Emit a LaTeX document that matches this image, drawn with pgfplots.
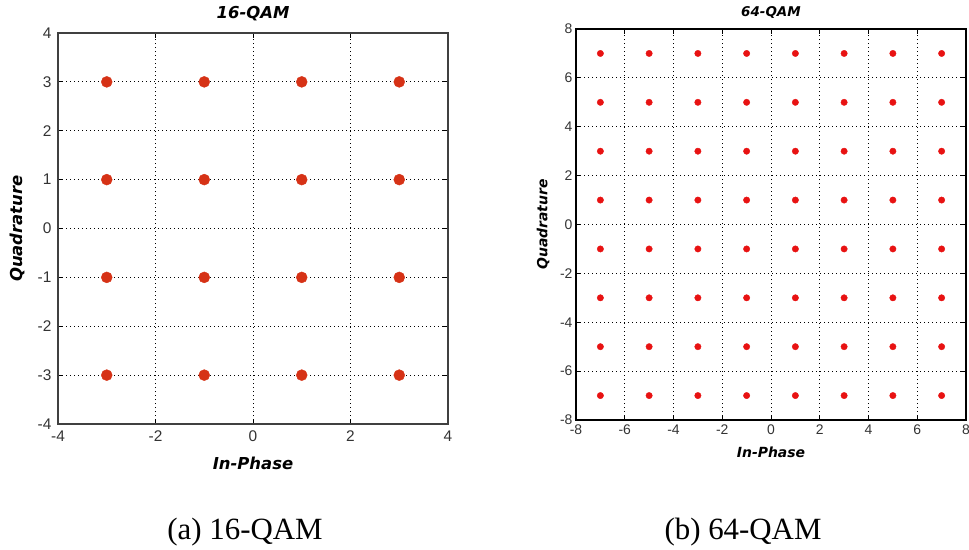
\documentclass[border=0pt]{standalone}
\usepackage{pgfplots}
\pgfplotsset{compat=1.18}
\usepackage{fontspec}
\setmainfont{Liberation Serif}
\newfontfamily\arial{Liberation Sans}
\newfontfamily\mlab{DejaVu Sans}
\definecolor{dotA}{RGB}{214,50,22}
\definecolor{dotB}{RGB}{232,18,18}
\begin{document}
\begin{tikzpicture}
\path[use as bounding box] (0,-550bp) rectangle (969bp,0);
% ---------- 16-QAM ----------
\begin{axis}[
  at={(58bp,-424bp)}, anchor=south west,
  width=390bp, height=391bp, scale only axis,
  xmin=-4, xmax=4, ymin=-4, ymax=4,
  xtick={-4,-2,0,2,4}, ytick={-4,-3,...,4},
  tick align=inside, tick pos=both, major tick length=5bp,
  axis line style={draw=black!75, line width=1.2bp},
  every tick/.style={black, line width=0.8bp},
  grid=major,
  major grid style={black, line width=0.8bp, dash pattern=on 1bp off 3bp},
  /pgf/number format/assume math mode=true,
  tick label style={font=\arial\fontsize{15.5}{15.5}\selectfont, text=black!80},
  yticklabel style={xshift=-3bp},
  xticklabel style={yshift=-3bp},
  every axis title shift=0pt,
  title={\mlab\bfseries\itshape 16-QAM},
  title style={at={(axis description cs:0.5,1.0486)}, anchor=center, font=\fontsize{16.5}{16.5}\selectfont},
  xlabel={\mlab\bfseries\itshape In-Phase},
  xlabel style={at={(axis description cs:0.5,-0.0997)}, anchor=center, font=\fontsize{16.5}{16.5}\selectfont},
  ylabel={\mlab\bfseries\itshape Quadrature},
  ylabel style={at={(axis description cs:-0.105,0.5)}, anchor=center, font=\fontsize{16.5}{16.5}\selectfont},
]
\addplot[only marks, mark=*, mark size=5.5bp, mark options={fill=dotA, draw=dotA}]
coordinates {
(-3,3) (-1,3) (1,3) (3,3)
(-3,1) (-1,1) (1,1) (3,1)
(-3,-1) (-1,-1) (1,-1) (3,-1)
(-3,-3) (-1,-3) (1,-3) (3,-3)
};
\end{axis}
% ---------- 64-QAM ----------
\begin{axis}[
  at={(576bp,-420bp)}, anchor=south west,
  width=390bp, height=391bp, scale only axis,
  xmin=-8, xmax=8, ymin=-8, ymax=8,
  xtick={-8,-6,...,8}, ytick={-8,-6,...,8},
  tick align=inside, tick pos=both, major tick length=5bp,
  axis line style={draw=black, line width=1.1bp},
  every tick/.style={black, line width=0.8bp},
  grid=major,
  major grid style={black, line width=0.8bp, dash pattern=on 1bp off 3bp},
  /pgf/number format/assume math mode=true,
  tick label style={font=\arial\fontsize{14}{14}\selectfont, text=black!80},
  xticklabel style={yshift=-1bp},
  every axis title shift=0pt,
  title={\mlab\bfseries\itshape 64-QAM},
  title style={at={(axis description cs:0.5,1.0435)}, anchor=center, font=\fontsize{13.5}{13.5}\selectfont},
  xlabel={\mlab\bfseries\itshape In-Phase},
  xlabel style={at={(axis description cs:0.5,-0.0818)}, anchor=center, font=\fontsize{14}{14}\selectfont},
  ylabel={\mlab\bfseries\itshape Quadrature},
  ylabel style={at={(axis description cs:-0.0846,0.5)}, anchor=center, font=\fontsize{14}{14}\selectfont},
]
\addplot[only marks, mark=*, mark size=3.2bp, mark options={fill=dotB, draw=dotB}]
coordinates {
(-7,7) (-5,7) (-3,7) (-1,7) (1,7) (3,7) (5,7) (7,7)
(-7,5) (-5,5) (-3,5) (-1,5) (1,5) (3,5) (5,5) (7,5)
(-7,3) (-5,3) (-3,3) (-1,3) (1,3) (3,3) (5,3) (7,3)
(-7,1) (-5,1) (-3,1) (-1,1) (1,1) (3,1) (5,1) (7,1)
(-7,-1) (-5,-1) (-3,-1) (-1,-1) (1,-1) (3,-1) (5,-1) (7,-1)
(-7,-3) (-5,-3) (-3,-3) (-1,-3) (1,-3) (3,-3) (5,-3) (7,-3)
(-7,-5) (-5,-5) (-3,-5) (-1,-5) (1,-5) (3,-5) (5,-5) (7,-5)
(-7,-7) (-5,-7) (-3,-7) (-1,-7) (1,-7) (3,-7) (5,-7) (7,-7)
};
\end{axis}
\node[font=\fontsize{31}{31}\selectfont, anchor=center] at (245bp,-532bp) {(a) 16-QAM};
\node[font=\fontsize{31}{31}\selectfont, anchor=center] at (743bp,-532bp) {(b) 64-QAM};
\end{tikzpicture}
\end{document}
